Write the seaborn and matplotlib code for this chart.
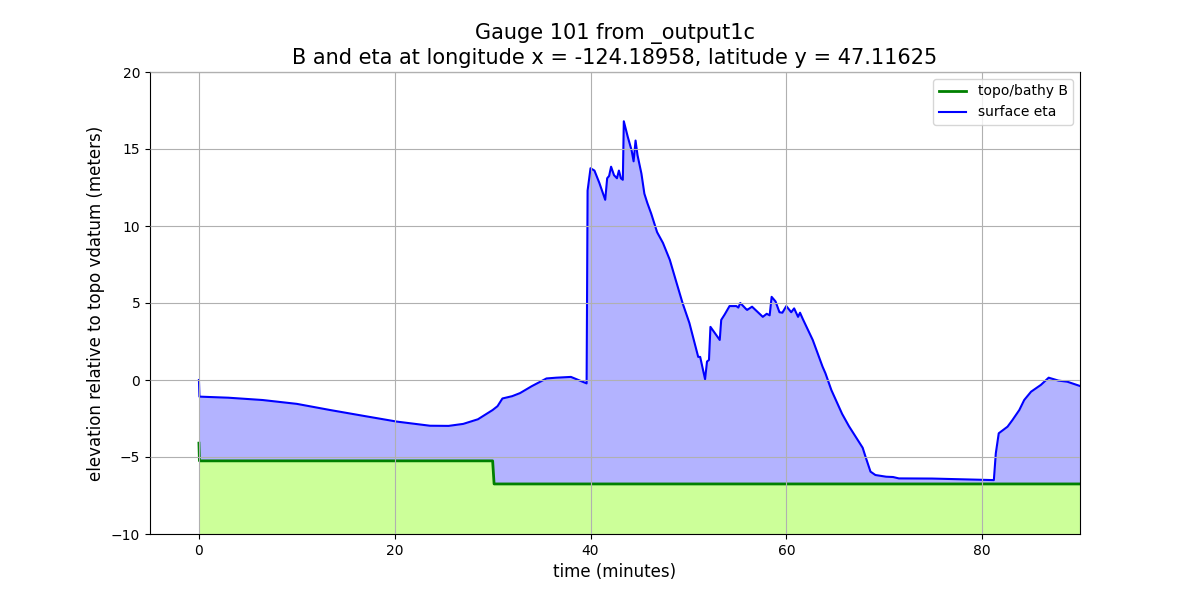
import matplotlib
matplotlib.use("Agg")
import matplotlib.pyplot as plt
import numpy as np
import seaborn as sns

# surface eta (meters) vs time (minutes)
t_eta = [0.0, 0.05, 3.0, 6.5, 10.0, 13.4, 17.0, 20.2, 23.6, 25.5,
         27.0, 28.5, 30.0, 30.5, 31.0, 32.0, 32.8, 34.0, 35.5, 36.5,
         38.0, 39.6, 39.7, 40.0, 40.4, 40.9, 41.5, 41.7, 41.9, 42.1,
         42.4, 42.7, 42.9, 43.1, 43.3, 43.4, 43.8, 44.2, 44.4, 44.6,
         44.8, 45.2, 45.5, 45.8, 46.2, 46.8, 47.4, 48.1, 48.7, 49.4,
         50.1, 51.0, 51.2, 51.7, 51.9, 52.1, 52.25, 53.2, 53.35, 53.7,
         54.2, 54.9, 55.1, 55.3, 55.9, 56.0, 56.5, 57.6, 58.0, 58.3,
         58.5, 58.9, 59.3, 59.6, 60.0, 60.5, 60.8, 61.2, 61.4, 61.7,
         62.7, 63.7, 64.0, 64.6, 65.7, 66.4, 67.8, 68.1, 68.6, 69.1,
         70.2, 70.9, 71.5, 74.9, 81.2, 81.4, 81.7, 82.6, 83.1, 83.8,
         84.3, 85.0, 86.0, 86.8, 87.8, 88.7, 90.0]
eta = [0.0, -1.08, -1.15, -1.3, -1.55, -1.95, -2.35, -2.7, -2.97, -2.98,
       -2.85, -2.55, -1.95, -1.7, -1.2, -1.05, -0.85, -0.4, 0.1, 0.15,
       0.2, -0.22, 12.3, 13.75, 13.6, 12.8, 11.7, 13.1, 13.25, 13.85,
       13.3, 13.1, 13.6, 13.1, 13.0, 16.8, 15.8, 14.9, 14.2, 15.55,
       14.6, 13.4, 12.1, 11.5, 10.8, 9.6, 8.9, 7.8, 6.5, 5.0,
       3.7, 1.5, 1.5, 0.05, 1.2, 1.3, 3.45, 2.6, 3.9, 4.25,
       4.8, 4.8, 4.7, 5.0, 4.6, 4.55, 4.76, 4.1, 4.3, 4.2,
       5.4, 5.1, 4.4, 4.37, 4.8, 4.4, 4.65, 4.1, 4.37, 3.94,
       2.6, 0.87, 0.43, -0.65, -2.2, -3.0, -4.4, -5.0, -5.95, -6.17,
       -6.28, -6.3, -6.39, -6.4, -6.5, -4.76, -3.46, -3.03, -2.6, -1.95,
       -1.3, -0.76, -0.32, 0.15, -0.04, -0.11, -0.39]

# topo/bathy B (meters)
t_b = [0.0, 0.05, 30.0, 30.15, 90.0]
topo_b = [-4.1, -5.25, -5.25, -6.75, -6.75]

fig, ax = plt.subplots(figsize=(12, 6), dpi=100)

# fill water column (blue) then ground (green) on top
ax.fill_between(t_eta, eta, -10, color=[0.7, 0.7, 1.0], linewidth=0)
ax.fill_between(t_b, topo_b, -10, color=[0.8, 1.0, 0.6], linewidth=0)

sns.lineplot(x=t_b, y=topo_b, ax=ax, color="g", linewidth=2,
             estimator=None, sort=False, label="topo/bathy B")
sns.lineplot(x=t_eta, y=eta, ax=ax, color="b", linewidth=1.5,
             estimator=None, sort=False, label="surface eta")

ax.set_xlim(-5, 90)
ax.set_ylim(-10, 20)
ax.set_xticks([0, 20, 40, 60, 80])
ax.set_yticks([-10, -5, 0, 5, 10, 15, 20])
ax.grid(True)
ax.set_axisbelow(False)
ax.legend(loc="upper right")
ax.set_xlabel("time (minutes)", fontsize=12)
ax.set_ylabel("elevation relative to topo vdatum (meters)", fontsize=12)
ax.set_title("Gauge 101 from _output1c\n"
             "B and eta at longitude x = -124.18958, latitude y = 47.11625",
             fontsize=15)

fig.savefig("out.png", dpi=100)
